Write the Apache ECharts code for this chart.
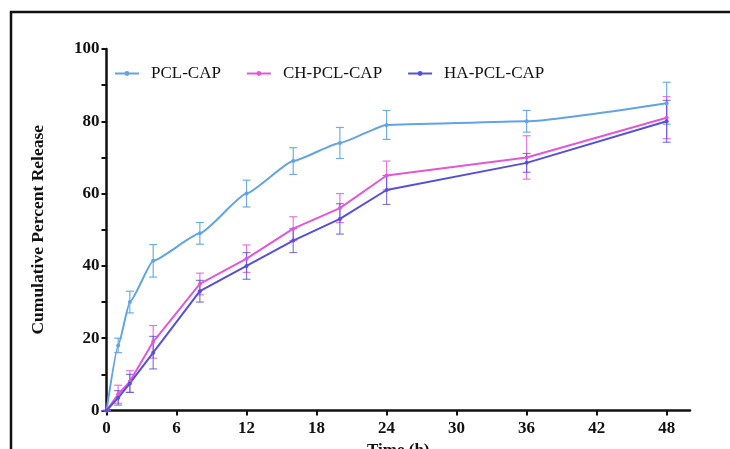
<!DOCTYPE html>
<html>
<head>
<meta charset="utf-8">
<script src="https://cdn.jsdelivr.net/npm/echarts@6/dist/echarts.min.js"></script>
<style>
  html, body { margin: 0; padding: 0; background: #fff; }
  #chart { width: 730px; height: 449px; }
</style>
</head>
<body>
<div id="chart"></div>
<script>
// time points (h)
const hours = [0, 1, 2, 4, 8, 12, 16, 20, 24, 36, 48];
const xTicks = [0, 6, 12, 18, 24, 30, 36, 42, 48];
const seriesNames = ['PCL-CAP', 'CH-PCL-CAP', 'HA-PCL-CAP'];

// cumulative release (%)
const pclCap   = [0, 18, 30, 41.4, 49, 60, 69, 74, 79, 80, 85];
const chPclCap = [0, 4.5, 8, 19, 35, 42, 50.3, 56, 65, 70, 81];
const haPclCap = [0, 3.5, 7.5, 16, 33, 40, 47, 53, 61, 68.5, 80];

// error (± SD)
const pclErr = [0, 2, 3, 4.5, 3, 3.7, 3.7, 4.3, 4, 3, 5.8];
const chErr  = [0, 2.5, 3, 4.5, 3, 3.8, 3.3, 4, 4, 6, 5.8];
const haErr  = [0, 2, 2.5, 4.5, 3, 3.7, 3.3, 4.2, 4, 2.6, 5.8];

const colors = ['#62a3e3', '#e058d6', '#5650d8'];
const barColors = ['rgba(98,163,227,0.9)', 'rgba(224,88,214,0.8)', 'rgba(86,80,216,0.75)'];

const values = [pclCap, chPclCap, haPclCap];
const errors = [pclErr, chErr, haErr];

const serif = '"Liberation Serif", "Times New Roman", serif';

const chart = echarts.init(document.getElementById('chart'));

const lineSeries = seriesNames.map((name, i) => ({
  name: name,
  type: 'line',
  data: hours.map((h, j) => [h, values[i][j]]),
  symbol: 'circle',
  symbolSize: 4,
  smooth: i === 0 ? 0.15 : false,
  smoothMonotone: 'x',
  itemStyle: { color: colors[i] },
  lineStyle: { color: colors[i], width: 2 },
  z: 3
}));

// 误差棒
const errSeries = seriesNames.map((name, i) => ({
  name: name + ' err',
  type: 'custom',
  data: hours.map((h, j) => [h, values[i][j] - errors[i][j], values[i][j] + errors[i][j]]),
  encode: { x: 0, y: [1, 2] },
  z: 2,
  renderItem: (params, api) => {
    const x = api.value(0);
    const lo = api.coord([x, api.value(1)]);
    const hi = api.coord([x, api.value(2)]);
    const w = 4;
    const style = { stroke: barColors[i], lineWidth: 1.2 };
    return {
      type: 'group',
      children: [
        { type: 'line', shape: { x1: lo[0], y1: lo[1], x2: hi[0], y2: hi[1] }, style },
        { type: 'line', shape: { x1: hi[0] - w, y1: hi[1], x2: hi[0] + w, y2: hi[1] }, style },
        { type: 'line', shape: { x1: lo[0] - w, y1: lo[1], x2: lo[0] + w, y2: lo[1] }, style }
      ]
    };
  }
}));

const option = {
  animation: false,
  backgroundColor: '#fff',
  graphic: [{
    type: 'rect',
    shape: { x: 11, y: 12, width: 760, height: 480 },
    style: { fill: 'none', stroke: '#111', lineWidth: 2.5 },
    silent: true
  }],
  legend: {
    data: seriesNames,
    left: 109,
    top: 60,
    itemWidth: 24,
    itemHeight: 6,
    itemGap: 25,
    textStyle: { fontFamily: serif, fontSize: 17, color: '#111', padding: [0, 0, 0, 7] }
  },
  grid: {
    left: 106.5,
    right: 40,
    top: 49,
    bottom: 38.5,
    outerBoundsMode: 'none',
    containLabel: false
  },
  xAxis: {
    type: 'value',
    min: 0,
    max: 50,
    name: 'Time (h)',
    nameLocation: 'middle',
    nameGap: 32,
    nameTextStyle: { fontFamily: serif, fontSize: 17, fontWeight: 'bold', color: '#111' },
    axisLine: { show: true, onZero: false, lineStyle: { color: '#111', width: 2.5 } },
    axisTick: { show: true, customValues: xTicks, length: 5, lineStyle: { color: '#111', width: 2 } },
    axisLabel: {
      customValues: xTicks,
      margin: 10,
      fontFamily: serif,
      fontSize: 17,
      fontWeight: 'bold',
      color: '#111'
    },
    splitLine: { show: false }
  },
  yAxis: {
    type: 'value',
    min: 0,
    max: 100,
    interval: 10,
    name: 'Cumulative Percent Release',
    nameLocation: 'middle',
    nameGap: 59,
    nameTextStyle: { fontFamily: serif, fontSize: 17.5, fontWeight: 'bold', color: '#111' },
    axisLine: { show: true, onZero: false, lineStyle: { color: '#111', width: 2.5 } },
    axisTick: { show: true, length: 5, lineStyle: { color: '#111', width: 2 } },
    axisLabel: {
      margin: 7,
      fontFamily: serif,
      fontSize: 17,
      fontWeight: 'bold',
      color: '#111',
      formatter: (v) => (v % 20 === 0 ? String(v) : '')
    },
    splitLine: { show: false }
  },
  series: [...errSeries, ...lineSeries]
};

chart.setOption(option);
</script>
</body>
</html>
